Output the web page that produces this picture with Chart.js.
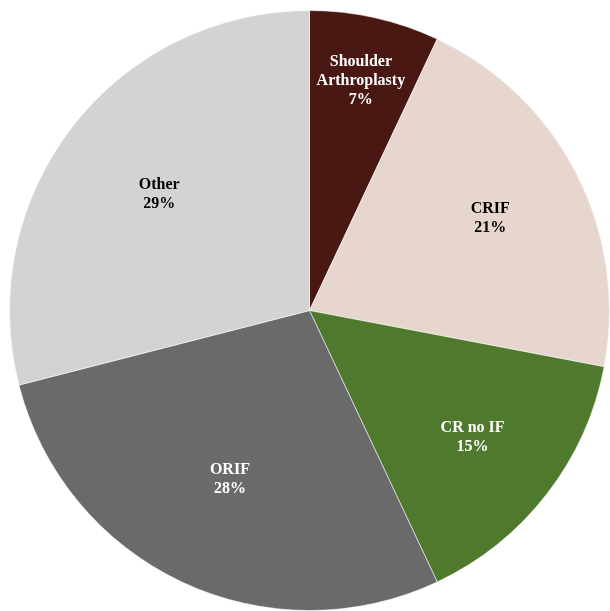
<!DOCTYPE html>
<html>
<head>
<meta charset="utf-8">
<script src="https://cdn.jsdelivr.net/npm/chart.js@4/dist/chart.umd.min.js"></script>
<style>
  html, body { margin: 0; padding: 0; background: #ffffff; }
  #wrap { width: 610px; height: 611px; }
</style>
</head>
<body>
<div id="wrap"><canvas id="procChart" width="610" height="611"></canvas></div>
<script>
// Procedure share (%)
var procedures = ['Shoulder Arthroplasty', 'CRIF', 'CR no IF', 'ORIF', 'Other'];
var shares = [7, 21, 15, 28, 29];
var sliceColors = ['#4a1813', '#e6d6cd', '#4f7a2e', '#6a6a6a', '#d3d3d3'];
var labelColors = ['#ffffff', '#000000', '#ffffff', '#ffffff', '#000000'];
// text lines for each slice label
var labelLines = [
    ['Shoulder', 'Arthroplasty', '7%'],
    ['CRIF', '21%'],
    ['CR no IF', '15%'],
    ['ORIF', '28%'],
    ['Other', '29%']
];

// draws the name + percent inside each slice
var sliceLabels = {
    id: 'sliceLabels',
    afterDatasetsDraw: function (chart, args, opts) {
        var ctx = chart.ctx;
        var meta = chart.getDatasetMeta(0);
        ctx.save();
        ctx.font = 'bold 16px "Liberation Serif", "Times New Roman", serif';
        ctx.textAlign = 'center';
        ctx.textBaseline = 'middle';
        meta.data.forEach(function (arc, i) {
            var mid = (arc.startAngle + arc.endAngle) / 2;
            var r = arc.outerRadius * opts.radius[i];
            var x = arc.x + Math.cos(mid) * r;
            var y = arc.y + Math.sin(mid) * r;
            var lines = labelLines[i];
            var lh = 19;
            var y0 = y - (lines.length - 1) * lh / 2;
            ctx.fillStyle = labelColors[i];
            lines.forEach(function (t, k) {
                ctx.fillText(t, x, y0 + k * lh);
            });
        });
        ctx.restore();
    }
};

var ctx = document.getElementById('procChart').getContext('2d');
var procChart = new Chart(ctx, {
    type: 'pie',
    data: {
        labels: procedures,
        datasets: [{
            data: shares,
            backgroundColor: sliceColors,
            borderColor: 'rgba(255, 255, 255, 0.55)',
            borderWidth: 1
        }]
    },
    options: {
        responsive: false,
        animation: false,
        layout: { padding: { left: 9, right: 0, top: 10, bottom: 0 } },
        plugins: {
            legend: { display: false },
            tooltip: { enabled: false },
            sliceLabels: { radius: [0.785, 0.676, 0.688, 0.623, 0.634] }
        }
    },
    plugins: [sliceLabels]
});
</script>
</body>
</html>
